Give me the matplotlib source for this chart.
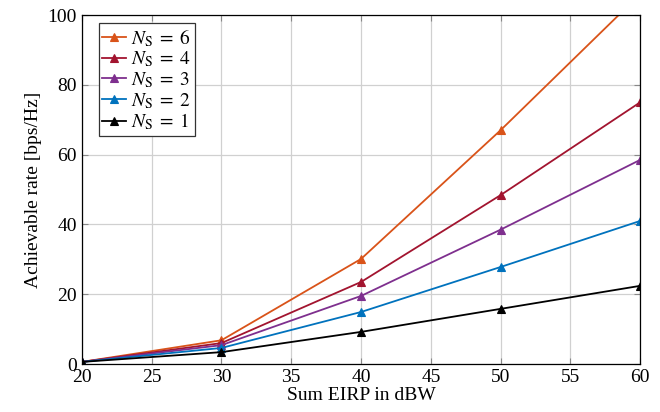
import matplotlib
matplotlib.use('Agg')
from matplotlib import pyplot as plt

plt.rcParams['font.family'] = 'Liberation Serif'
plt.rcParams['mathtext.fontset'] = 'stix'

# sum EIRP in dBW and achievable rate per number of streams
eirp = [20, 30, 40, 50, 60]
rate_ns6 = [0.6, 6.8, 30.1, 67.0, 106.0]
rate_ns4 = [0.6, 6.0, 23.5, 48.4, 75.0]
rate_ns3 = [0.6, 5.4, 19.5, 38.5, 58.5]
rate_ns2 = [0.6, 4.6, 14.9, 27.8, 41.0]
rate_ns1 = [0.6, 3.4, 9.2, 15.8, 22.4]

series = [
    (rate_ns6, '#D95319', r'$N_{\mathrm{S}}\;=\;6$'),
    (rate_ns4, '#A2142F', r'$N_{\mathrm{S}}\;=\;4$'),
    (rate_ns3, '#7E2F8E', r'$N_{\mathrm{S}}\;=\;3$'),
    (rate_ns2, '#0072BD', r'$N_{\mathrm{S}}\;=\;2$'),
    (rate_ns1, '#000000', r'$N_{\mathrm{S}}\;=\;1$'),
]

fig = plt.figure(figsize=(6.6, 4.12), dpi=100)
ax = fig.add_axes([0.124, 0.1165, 0.846, 0.847])

for rate, color, label in series:
    ax.plot(eirp, rate, color=color, lw=1.3, marker='^', markersize=6,
            markeredgewidth=0.8, label=label)

ax.set_xlim(20, 60)
ax.set_ylim(0, 100)
ax.set_xticks(range(20, 61, 5))
ax.set_yticks(range(0, 101, 20))
ax.grid(True, color='#d0d0d0', lw=0.9)
ax.set_axisbelow(True)
ax.tick_params(direction='in', top=True, right=True, labelsize=14,
               color='#888888', length=4)
for sp in ax.spines.values():
    sp.set_linewidth(0.9)

ax.set_xlabel('Sum EIRP in dBW', fontsize=14, labelpad=1)
ax.set_ylabel('Achievable rate [bps/Hz]', fontsize=14, labelpad=4)

leg = ax.legend(loc='upper left', fontsize=14, fancybox=False, framealpha=1,
                edgecolor='#333333', handlelength=1.2, handletextpad=0.25,
                borderpad=0.2, labelspacing=0.05, borderaxespad=0,
                bbox_to_anchor=(0.03, 0.977))
leg.get_frame().set_linewidth(0.9)

fig.savefig('out.png', dpi=100)
